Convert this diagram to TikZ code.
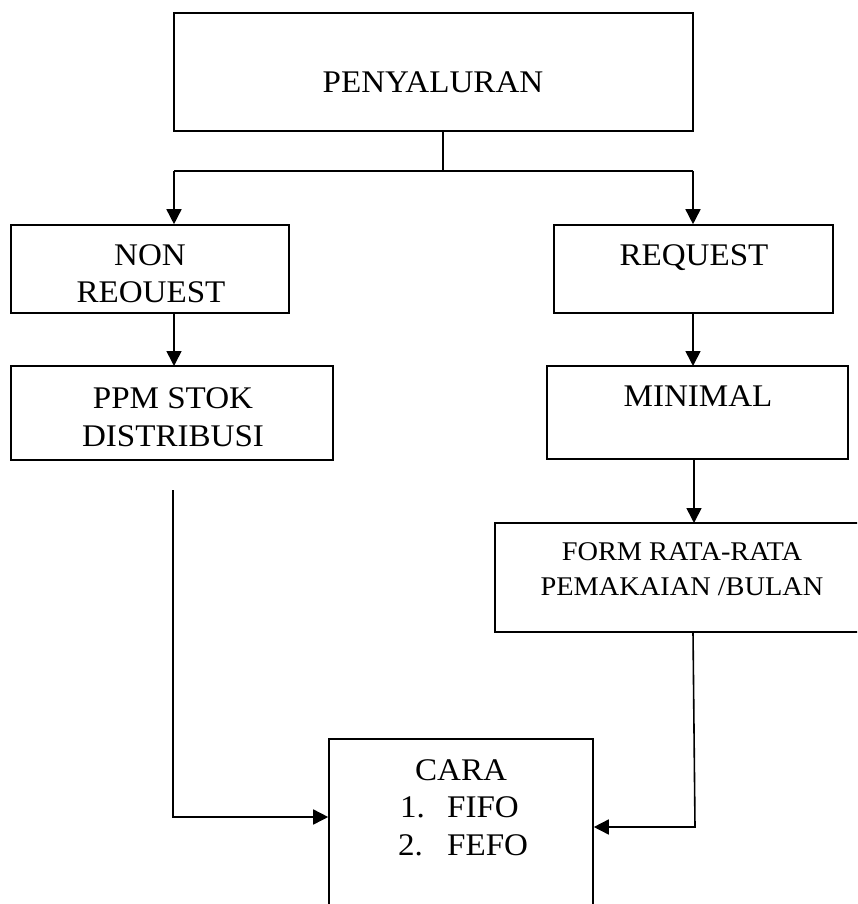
\documentclass[tikz,border=0pt]{standalone}
\usepackage{fontspec}
\setmainfont{Liberation Serif}[FakeStretch=1.05]
\usetikzlibrary{arrows.meta}
\tikzset{
  box/.style={draw, line width=1.6pt, inner sep=0pt},
  lbl/.style={anchor=base, inner sep=0pt, font=\fontsize{31.5}{37}\selectfont},
  lbls/.style={anchor=base, inner sep=0pt, font=\fontsize{27}{32}\selectfont},
  conn/.style={line width=1.6pt},
  arr/.style={conn, -{Triangle[length=15pt,width=15pt]}}
}
\begin{document}
\begin{tikzpicture}[x=1pt,y=-1pt]
\clip (0,0) rectangle (857,904);
\fill[white] (0,0) rectangle (857,904);
% boxes
\node[box, minimum width=519pt, minimum height=118pt] (top) at (433.5,72) {};
\node[box, minimum width=278pt, minimum height=88pt] (nonreq) at (150,269) {};
\node[box, minimum width=279pt, minimum height=88pt] (req) at (693.5,269) {};
\node[box, minimum width=322pt, minimum height=94pt] (ppm) at (172,413) {};
\node[box, minimum width=301pt, minimum height=93pt] (mini) at (697.5,412.5) {};
\node[box, minimum width=375pt, minimum height=109pt] (form) at (682.5,577.5) {};
\node[box, minimum width=264pt, minimum height=181pt] (cara) at (461,829.5) {};
% texts
\node[lbl] (t1) at (433,93) {PENYALURAN};
\node[lbl] (t2a) at (150,265) {NON};
\node[lbl] (t2b) at (151,302) {REOUEST};
\node[lbl] (t3) at (694,265) {REQUEST};
\node[lbl] (t4a) at (173,408) {PPM STOK};
\node[lbl] (t4b) at (173,446) {DISTRIBUSI};
\node[lbl] (t5) at (698,406) {MINIMAL};
\node[lbls] (t6a) at (682,560) {FORM RATA-RATA};
\node[lbls] (t6b) at (682,595) {PEMAKAIAN /BULAN};
\node[lbl] (t7) at (461,780) {CARA};
\node[lbl, anchor=base west] (t7a) at (400,817) {\makebox[47pt][l]{1.}FIFO};
\node[lbl, anchor=base west] (t7b) at (398,855) {\makebox[49pt][l]{2.}FEFO};
% connectors
\coordinate (split) at (443,171);
\coordinate (sl) at (174,171);
\coordinate (sr) at (693,171);
\draw[conn] (top.south -| split) -- (split);
\draw[conn] (sl) -- (sr);
\draw[arr] (sl) -- (sl |- nonreq.north);
\draw[arr] (sr) -- (sr |- req.north);
\draw[arr] (174,313) -- (174,366);
\draw[arr] (693,313) -- (693,366);
\draw[arr] (694,459) -- (694,523);
\coordinate (lstart) at (173,490);
\coordinate (lcorner) at (173,817);
\draw[arr] (lstart) -- (lcorner) -- (lcorner -| cara.west);
\coordinate (rstart) at (693,632);
\coordinate (rcorner) at (695,827);
\draw[arr] (rstart) -- (rcorner) -- (rcorner -| cara.east);
\end{tikzpicture}
\end{document}
